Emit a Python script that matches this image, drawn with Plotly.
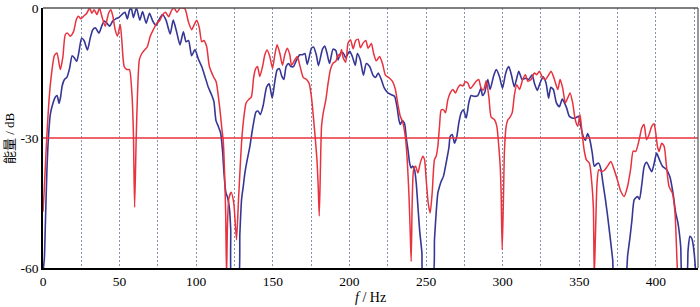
import plotly.graph_objects as go

# ---- data ----
red_f = [0, 0.8, 1.6, 2.6, 4.3, 5.8, 7.4, 9.1, 11.3, 13, 14.5, 16, 17.8, 20, 21.7, 23.2, 24.7, 26.5,
         28.6, 30.4, 31.9, 33.4, 35.2, 36.9, 38.4, 40.6, 42.8, 44.3, 45.6, 47.1, 48.6, 50.4, 51.4, 53,
         54.7, 56.4, 58, 59, 59.8, 60.8, 61.7, 62.9, 64.5, 66, 68, 70, 72, 74.2, 76, 78, 80, 82, 84,
         85.5, 87.5, 89.4, 90.5, 92.7, 94.9, 97, 98.5, 100.3, 102, 103.6, 105, 106.8, 108.6, 111.2,
         113, 115.5, 116.6, 117.7, 118.5, 119.2, 119.8, 120.4, 121.3, 122.8, 124.5, 126.3, 127.5,
         128.5, 129.6, 131, 132.5, 134, 136, 137.5, 138.8, 140, 141.5, 143.3, 144.8, 146.3, 148,
         149.8, 151.3, 152.8, 154.6, 156.3, 157.8, 159.4, 161.1, 162.2, 164.3, 165.9, 167.6, 169.8,
         172, 173.7, 175.2, 176.7, 177.8, 178.8, 179.6, 180.3, 181.1, 181.8, 182.9, 184.6, 186.1,
         187.6, 189.4, 191.1, 192.6, 193.7, 194.8, 195.9, 197.6, 199.1, 200.7, 202.4, 204.1, 205.7,
         207.2, 208.9, 210.7, 212.2, 214.3, 215.8, 217.5, 219.7, 221.7, 223.5, 226.2, 228.2, 230,
         231.5, 233.2, 234.9, 236.7, 237.7, 238.8, 239.7, 240.3, 241, 241.9, 243.2, 244.7, 246.2,
         247.9, 249, 250.1, 251.4, 252.7, 254, 255.5, 256.6, 257.7, 258.8, 259.9, 261.4, 262.7,
         264.2, 265.8, 267.5, 269.2, 270.7, 272.3, 274, 275.7, 277.3, 278.8, 280.5, 282.7, 284.4,
         285.9, 287.5, 289.3, 291, 292.5, 294.7, 296.2, 297.5, 298.4, 299, 299.7, 300.5, 301.2,
         302.3, 303.4, 304.4, 306.2, 307.7, 309.2, 311, 313.1, 314.9, 316.4, 318.6, 320.7, 322.3,
         324, 325.7, 327.9, 330.1, 331.6, 333.8, 336, 337.5, 339.2, 340.9, 342.4, 344, 345.7, 347.4,
         349, 350.5, 351.8, 353.3, 354.6, 356.6, 358.2, 359.2, 359.8, 360.6, 361.6, 362.7, 364.5,
         366.3, 368.4, 370.6, 372.8, 375, 377.1, 379.3, 381.5, 383.6, 385.2, 386.9, 389.1, 390.8,
         392.3, 393.9, 395.6, 397.3, 398.8, 399.9, 401, 402.1, 403.8, 405.4, 406.9, 408.6, 410.8,
         412.5, 414, 415]
red_db = [-47, -42, -36, -29, -19.6, -14.5, -11, -10.4, -14.2, -11.2, -6.2, -5.8, -6.5, -5.4, -2.7,
          -1.9, -2.5, -1.9, -1.2, 0, -1.2, -0.4, -1.5, 0, -1.9, -4.2, -1.2, -0.4, -1.9, -5, -6.5,
          -3.8, -7.3, -13.5, -14.2, -14.2, -19.6, -28.8, -46, -30.4, -19.6, -11.9, -10.5, -9.8, -9,
          -6.5, -5, -3.5, -3, -1.6, -1, -2, -0.5, 0, -1, 0, 0, -0.2, -3.2, -5, -4, -2.8, -4.5, -7.8,
          -7.5, -8.9, -13.5, -15.8, -17, -23.5, -27.4, -31, -38, -47, -62, -50, -44, -42.5, -45,
          -53.5, -45, -38, -31, -25.5, -22, -21.2, -20.5, -16, -14, -13.5, -15.8, -13.5, -10.8, -9.7,
          -11.2, -13.9, -10.8, -8.5, -10.5, -13.2, -10.8, -9.3, -10.8, -13.2, -12, -11.2, -13.2,
          -16, -16.5, -17.4, -20.5, -26, -30.5, -35, -41, -48, -36.5, -27.3, -24.2, -21.2, -17.3,
          -14.2, -12.7, -12.3, -10.8, -11.2, -9.6, -11.5, -12.5, -8.1, -7.3, -9.4, -7.5, -7.2, -9.2,
          -8.1, -7.5, -9.3, -8.2, -10.5, -12.2, -11.2, -13, -15.5, -16.2, -17, -18.8, -22, -25,
          -26.5, -30.4, -35, -42.7, -52, -58.5, -44.2, -37.3, -36.5, -38.1, -35.8, -34.2, -35,
          -39.6, -45, -47.3, -42.7, -35, -34.2, -31.9, -27.3, -23.5, -23.5, -24.2, -21.2, -19.6,
          -18.8, -19.6, -18.5, -17.7, -18, -17, -17.3, -18.6, -18, -16.9, -16.5, -18.5, -18.9,
          -16.8, -20.5, -25.2, -25.8, -27.3, -32, -36.5, -42.7, -55.8, -44.2, -32.7, -27.3, -25.8,
          -25.4, -24.2, -20, -17.7, -18.8, -16.5, -15.4, -16.9, -16.5, -15, -15.4, -14.6, -15.8,
          -16.5, -15.4, -14.6, -16.5, -18.8, -16.5, -18.5, -21.9, -20.8, -19.6, -21.9, -25.8, -27.3,
          -24.6, -28.8, -33, -35, -35.8, -40.4, -46, -62, -52, -40.4, -37.3, -37.7, -37.5, -36.5,
          -35.4, -37.3, -39.8, -42.3, -43.5, -41.2, -37, -33, -33.1, -30.4, -27.7, -26.9, -30.4,
          -29.2, -27.3, -26.7, -28.8, -31.9, -33.1, -31.2, -31.9, -36.5, -41.2, -42.7, -47.3, -60,
          -64]

blue_f = [0.3, 0.9, 1.5, 2.6, 3.7, 4.8, 6.5, 8, 9.2, 10.5, 11.5, 12.5, 14, 15.6, 17.3, 19, 20.4, 22,
          23.5, 25.2, 26.8, 29, 30.8, 32.5, 34.3, 36.5, 38.5, 40, 41.7, 43.5, 45.5, 47.5, 49.5,
          51.5, 53.5, 55, 56.5, 57.6, 59, 61, 63.2, 65, 67.3, 69.5, 71.6, 73.8, 76, 78, 80.3, 83,
          85, 87.2, 89.4, 91.6, 93.4, 95, 97, 99.2, 101.4, 103.6, 105.7, 107.9, 110, 111.5, 112.9,
          114.4, 115.9, 117.2, 118.1, 119.4, 120.3, 121.6, 122.5, 123.5, 127.2, 128.5, 129.6,
          130.7, 131.8, 133.3, 135, 136.5, 137.7, 139, 140.5, 141.8, 143.7, 145.9, 147.6, 149.6,
          151.2, 152.8, 154.3, 155.9, 157.2, 158.7, 160.3, 161.8, 163.5, 165.5, 167.6, 169.4,
          170.9, 172.5, 175.2, 176.6, 178.5, 179.8, 182.4, 183.9, 185.4, 187, 189.3, 191.1, 192.6,
          194.1, 195.8, 197.6, 199.1, 200.2, 201.9, 203.8, 205.2, 207.1, 209.1, 211, 213.2, 215.4,
          217.1, 218.8, 220.8, 222.8, 225.1, 227.3, 229.5, 231, 232.3, 233.2, 234.5, 236, 237.1,
          238.2, 239.3, 240.3, 241.4, 242.5, 243.6, 244.7, 245.8, 247.3, 248.2, 254.3, 255.5,
          256.6, 257.7, 258.8, 259.9, 261.4, 263.1, 264.9, 265.8, 267.1, 268.6, 270.1, 271.4,
          272.9, 274.4, 276.2, 277.9, 279.4, 281.6, 283.8, 285.9, 286.8, 288.2, 290.3, 291.8, 294,
          295.8, 297.9, 299.9, 301.7, 303, 304, 305.7, 307.6, 309, 310.5, 312.7, 314.9, 317,
          319.2, 320.7, 322.6, 324.4, 326.4, 328.3, 330, 331.4, 333.1, 335.1, 337, 338.9, 340.5,
          341.8, 343.5, 345.4, 347.4, 349.6, 351.2, 352.5, 354, 355.5, 357, 358.5, 359.8, 361.4,
          362.7, 364.2, 365.3, 367, 368.5, 370.1, 371.8, 372.9, 380, 381.6, 383.1, 384.4, 385.9,
          388.1, 389.3, 390.9, 392.4, 394, 396, 397.3, 398.8, 400.5, 402.3, 404.3, 407, 409.2,
          411.3, 412.8, 414.4, 416.2, 417.3, 420, 421, 422.2, 423.6, 425, 426.2]
blue_db = [-60, -57.7, -50.4, -37, -29, -24.5, -22, -20.6, -20.2, -22, -20.5, -18, -16.5, -16, -14,
           -11, -11.5, -12.3, -10, -7, -7.5, -9.7, -7, -5, -4.6, -5.8, -4, -3, -3.5, -4.2, -3, -2.5,
           -2.2, -1.5, -1, -2.5, -0.5, 0, -2.2, 0, -2.8, -0.8, -3.5, -1.2, -3, -4, -2.5, -1.5, -2.8,
           -6, -2.8, -5.5, -8.5, -5.5, -7.8, -7.5, -11, -9.6, -11.8, -13.5, -15.8, -18.3, -20,
           -21.5, -26, -27.3, -28.8, -33, -38, -42.7, -43.5, -46, -51, -64, -64, -52, -44.2, -41.2,
           -38, -35, -32, -28.5, -26, -24, -23.8, -24.6, -22.5, -18.3, -17.5, -20.8, -17.2, -14.3,
           -14, -15.8, -16.5, -13.5, -12.8, -13.5, -13.5, -12, -10.8, -10.8, -10.5, -13, -9.3, -9,
           -11, -13.3, -9.5, -8.8, -10.5, -12.8, -9.5, -9.8, -12, -10.5, -10.3, -11.5, -10.5, -10,
           -11.2, -13.2, -10.5, -12, -15.5, -12.8, -13.5, -15.5, -16, -15, -16.5, -18.5, -19.6,
           -20, -20.4, -22.7, -25.8, -26.9, -26, -26.7, -30, -32.7, -35.8, -36.9, -36.5, -37.3,
           -40.4, -45.8, -51.2, -56.5, -62, -62, -53.5, -47.3, -42.7, -41.2, -40, -38.8, -35.8,
           -32.3, -29.6, -29.2, -31.2, -29.6, -26.5, -24.2, -23.5, -25.4, -21.9, -20.2, -20.4,
           -20.2, -18.5, -20.2, -19.6, -16.5, -18.8, -15.8, -14.2, -15.8, -18.5, -15.5, -14, -13.5,
           -15.4, -18.2, -16.5, -14.6, -16.5, -16.2, -16.5, -15.4, -17.3, -19, -17.3, -15.9, -17.3,
           -20.8, -18.3, -18.8, -21.9, -22.8, -21, -22, -23.1, -25, -25.4, -25.4, -25, -27.6, -29.6,
           -30.5, -29, -30.5, -33.5, -36.5, -36, -35.8, -37.3, -40, -44, -48, -52.7, -58, -62, -62,
           -57, -53, -48.9, -44.2, -43.5, -44.2, -40.5, -36.5, -35.6, -37, -37.8, -36, -33.5, -35,
           -36.5, -37.3, -39, -43, -47, -49.6, -55, -62, -62, -56, -52.7, -53.3, -56.5, -62]

threshold_db = -30
x_range = [0, 427.5]
y_range = [-60, 0]
x_tickvals = [0, 50, 100, 150, 200, 250, 300, 350, 400]
y_tickvals = [-60, -30, 0]

RED = "#e8323e"
BLUE = "#363696"
GRID = "#8494ae"
DOTS = "1.5px,2.5px"
FONT = "Liberation Serif, Times New Roman, serif"

fig = go.Figure()
fig.add_trace(go.Scatter(x=blue_f, y=blue_db, mode="lines",
                         line=dict(color=BLUE, width=1.6, shape="spline", smoothing=0.6),
                         showlegend=False))
fig.add_trace(go.Scatter(x=red_f, y=red_db, mode="lines",
                         line=dict(color=RED, width=1.5, shape="spline", smoothing=0.6),
                         showlegend=False))
fig.add_hline(y=threshold_db, line=dict(color=RED, width=1.4))

fig.update_layout(
    width=700, height=307,
    margin=dict(l=43, r=1.5, t=8, b=38.7),
    paper_bgcolor="white", plot_bgcolor="white",
    font=dict(family=FONT, size=13, color="black"),
    showlegend=False,
)
fig.update_xaxes(
    range=x_range, tickvals=x_tickvals, ticktext=[str(v) for v in x_tickvals],
    showgrid=True, gridcolor=GRID, griddash=DOTS, gridwidth=1.3,
    minor=dict(dtick=25, tick0=0, showgrid=True, gridcolor=GRID, griddash=DOTS, gridwidth=1.3),
    showline=True, linecolor="black", linewidth=1.5, mirror=False,
    ticks="", zeroline=False, tickfont=dict(size=13.5),
)
fig.update_yaxes(
    range=y_range, tickvals=y_tickvals, ticktext=[str(v) for v in y_tickvals],
    showgrid=False, showline=True, linecolor="black", linewidth=1.5, mirror=False,
    ticks="", zeroline=False, tickfont=dict(size=13.5),
)
# frame on top and right
fig.add_shape(type="line", xref="paper", yref="paper", x0=0, x1=1, y0=1, y1=1,
              line=dict(color="#555555", width=1.5))
fig.add_shape(type="line", xref="paper", yref="paper", x0=1, x1=1, y0=0, y1=1,
              line=dict(color="#555555", width=1.2))

fig.add_annotation(text="<i>f</i> / Hz", xref="paper", yref="paper", x=0.5, y=0,
                   xanchor="center", yanchor="middle", yshift=-29, showarrow=False,
                   font=dict(family=FONT, size=14))
fig.add_annotation(text="能量 / dB", xref="paper", yref="paper", x=0, y=0.5,
                   xanchor="center", yanchor="middle", xshift=-34, textangle=-90,
                   showarrow=False,
                   font=dict(family="Liberation Serif, Noto Sans CJK SC", size=13))

fig.write_html("out.html", config={"displayModeBar": False},
               post_script="document.body.style.margin='0';document.body.style.padding='0';")
